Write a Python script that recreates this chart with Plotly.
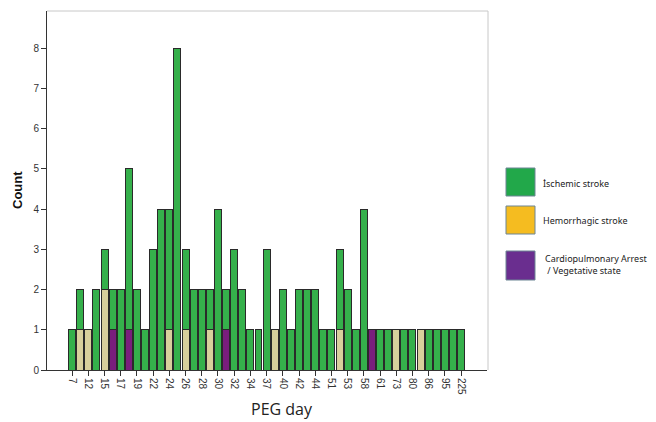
import plotly.graph_objects as go

# ---- data ----
categories = ["7", "10", "12", "14", "15", "16", "17", "18", "19", "21",
              "22", "23", "24", "25", "26", "27", "28", "29", "30", "31",
              "32", "33", "34", "36", "37", "39", "40", "41", "42", "43",
              "44", "47", "51", "52", "53", "55", "58", "60", "61", "65",
              "73", "77", "80", "83", "86", "90", "95", "120", "225"]
ischemic = [1, 1, 0, 2, 1, 1, 2, 4, 2, 1,
            3, 4, 3, 8, 2, 2, 2, 1, 4, 1,
            3, 2, 1, 1, 3, 0, 2, 1, 2, 2,
            2, 1, 1, 2, 2, 1, 4, 0, 1, 1,
            0, 1, 1, 0, 1, 1, 1, 1, 1]
hemorrhagic = [0, 1, 1, 0, 2, 0, 0, 0, 0, 0,
               0, 0, 1, 0, 1, 0, 0, 1, 0, 0,
               0, 0, 0, 0, 0, 1, 0, 0, 0, 0,
               0, 0, 0, 1, 0, 0, 0, 0, 0, 0,
               1, 0, 0, 1, 0, 0, 0, 0, 0]
cardio = [0, 0, 0, 0, 0, 1, 0, 1, 0, 0,
          0, 0, 0, 0, 0, 0, 0, 0, 0, 1,
          0, 0, 0, 0, 0, 0, 0, 0, 0, 0,
          0, 0, 0, 0, 0, 0, 0, 1, 0, 0,
          0, 0, 0, 0, 0, 0, 0, 0, 0]
tick_labels = categories[::2]
legend_labels = ["İschemic stroke", "Hemorrhagic stroke",
                 "Cardiopulmonary Arrest<br> / Vegetative state"]

OFF = 8  # default page body margin
W, H = 656 - OFF, 422 - OFF
L, R, T, B = 47 - OFF, 487 - OFF, 11 - OFF, 370 - OFF

def nz(v):
    return [x if x else None for x in v]

line = dict(color="#2a2a2a", width=1)
fig = go.Figure()
fig.add_bar(x=categories, y=nz(hemorrhagic), marker=dict(color="#D8D09C", line=line), name=legend_labels[1])
fig.add_bar(x=categories, y=nz(cardio), marker=dict(color="#7A1E7D", line=line), name=legend_labels[2])
fig.add_bar(x=categories, y=nz(ischemic), marker=dict(color="#35B04B", line=line), name=legend_labels[0])

fig.update_layout(
    width=W, height=H,
    margin=dict(l=L, r=W - R, t=T, b=H - B, autoexpand=False),
    paper_bgcolor="white", plot_bgcolor="white",
    barmode="stack", bargap=0.14, showlegend=False,
    font=dict(family="Liberation Sans, Arial", size=10, color="#333333"),
)
fig.update_xaxes(
    type="category", range=[-3.1, 51.2],
    tickmode="array", tickvals=tick_labels, ticktext=tick_labels,
    tickangle=90, ticks="outside", ticklen=5, tickcolor="#333",
    showline=True, linecolor="#333", linewidth=1,
    showgrid=False, zeroline=False,
    tickfont=dict(size=10, color="#333"),
)
fig.update_yaxes(
    range=[0, 8.93], tickmode="linear", tick0=0, dtick=1,
    ticks="outside", ticklen=5, tickcolor="#333",
    showline=True, linecolor="#333", linewidth=1,
    showgrid=False, zeroline=False,
    tickfont=dict(size=10, color="#333"),
)

# page pixel -> paper coordinates
def px(x):
    return (x - OFF - L) / (R - L)

def py(y):
    return (B - (y - OFF)) / (B - T)

shapes = [
    dict(type="line", xref="paper", yref="paper", x0=0, x1=px(488), y0=1, y1=1,
         line=dict(color="#c8c8c8", width=1)),
    dict(type="line", xref="paper", yref="paper", x0=px(488), x1=px(488), y0=1, y1=0,
         line=dict(color="#c8c8c8", width=1)),
]
legend_colors = ["#22A84A", "#F5BC20", "#6A2E8F"]
boxes = [(168, 196), (206, 234), (251, 280)]
for (y0, y1), c in zip(boxes, legend_colors):
    shapes.append(dict(type="rect", xref="paper", yref="paper",
                       x0=px(506), x1=px(535), y0=py(y1), y1=py(y0),
                       fillcolor=c, line=dict(color="#6d8594", width=1)))
fig.update_layout(shapes=shapes)

annotations = [
    dict(text=legend_labels[0], x=px(541), y=py(183), xanchor="left", yanchor="middle"),
    dict(text=legend_labels[1], x=px(541), y=py(220), xanchor="left", yanchor="middle"),
    dict(text=legend_labels[2], x=px(543), y=py(264), xanchor="left", yanchor="middle", align="left"),
]
for a in annotations:
    a.update(xref="paper", yref="paper", showarrow=False,
             font=dict(family="Noto Sans", size=9, color="#222"))
annotations.append(dict(text="<b>Count</b>", xref="paper", yref="paper", x=px(17), y=py(190),
                        xanchor="center", yanchor="middle",
                        textangle=-90, showarrow=False,
                        font=dict(family="Liberation Sans, Arial", size=13, color="#111")))
annotations.append(dict(text="PEG day", xref="paper", yref="paper", x=px(282), y=py(409),
                        xanchor="center", yanchor="middle",
                        showarrow=False,
                        font=dict(family="Open Sans", size=16, color="#222")))
fig.update_layout(annotations=annotations)

fig.write_html("out.html")
